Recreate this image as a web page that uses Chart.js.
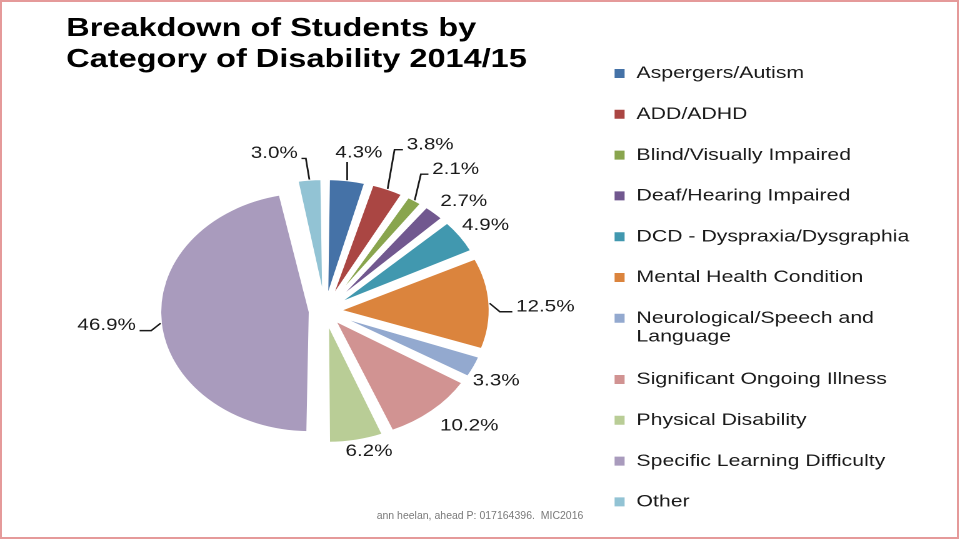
<!DOCTYPE html>
<html>
<head>
<meta charset="utf-8">
<title>Breakdown of Students by Category of Disability 2014/15</title>
<script src="https://cdn.jsdelivr.net/npm/chart.js@4.4.1/dist/chart.umd.min.js"></script>
<style>
  html, body { margin: 0; padding: 0; background: #fff; }
  body { width: 960px; height: 540px; position: relative; overflow: hidden; }
  /* the source slide is stretched sideways, so the chart is drawn narrow and scaled */
  #stretch { position: absolute; left: 0; top: 0; width: 768px; height: 540px; transform: scaleX(1.25); transform-origin: 0 0; }
  #frame { position: absolute; left: 0; top: 0; width: 959px; height: 539px; box-sizing: border-box; border: 2px solid #e59a9a; }
  #footer { position: absolute; left: 0; top: 508px; width: 960px; text-align: center; font: 10.5px "Liberation Sans", Arial, sans-serif; line-height: 14px; color: #7a7a7a; }
</style>
</head>
<body>
<div id="stretch"><canvas id="pie" width="768" height="540"></canvas></div>
<div id="footer">ann heelan, ahead P: 017164396.&nbsp; MIC2016</div>
<div id="frame"></div>
<script>
// Data
const titleLines = ['Breakdown of Students by', 'Category of Disability 2014/15']
const categories = [
  'Aspergers/Autism',
  'ADD/ADHD',
  'Blind/Visually Impaired',
  'Deaf/Hearing Impaired',
  'DCD - Dyspraxia/Dysgraphia',
  'Mental Health Condition',
  ['Neurological/Speech and', 'Language'],
  'Significant Ongoing Illness',
  'Physical Disability',
  'Specific Learning Difficulty',
  'Other'
]
const shares = [4.3, 3.8, 2.1, 2.7, 4.9, 12.5, 3.3, 10.2, 6.2, 46.9, 3.0]
const colours = [
  '#4572a7', '#aa4643', '#89a54e', '#71588f', '#4198af', '#db843d',
  '#93a9cf', '#d19392', '#b9cd96', '#a99bbd', '#92c3d4'
]

Chart.defaults.font.family = '"Liberation Sans", Arial, sans-serif'

//  Chart.js grows narrow exploded slices a little; keep every slice at one radius
const evenRadius = {
  id: 'evenRadius',
  afterDatasetsUpdate (chart) {
    const meta = chart.getDatasetMeta(0)
    const base = meta.controller.outerRadius
    meta.data.forEach(arc => {
      const shift = (arc.options.offset || 0) / 4
      const fix = 1 - Math.sin(Math.min(Math.PI, arc.circumference))
      arc.outerRadius = base - shift * fix
    })
  }
}

//  Percent labels outside the slices, with leader lines for the far ones
const sliceLabels = {
  id: 'sliceLabels',
  afterDatasetsDraw (chart, args, opts) {
    const ctx = chart.ctx
    const meta = chart.getDatasetMeta(0)
    const values = chart.data.datasets[0].data
    const base = meta.controller.outerRadius
    ctx.save()
    ctx.font = opts.font
    ctx.fillStyle = opts.color
    ctx.strokeStyle = opts.color
    ctx.lineWidth = opts.lineWidth
    ctx.textAlign = 'center'
    ctx.textBaseline = 'middle'
    meta.data.forEach((arc, i) => {
      const { x, y, startAngle, endAngle } = arc.getProps(
        ['x', 'y', 'startAngle', 'endAngle'], true)
      const r0 = base + arc.options.offset / 4
      const mid = (startAngle + endAngle) / 2
      const ax = x + Math.cos(mid) * r0
      const ay = y + Math.sin(mid) * r0
      const text = values[i].toFixed(1) + '%'
      const hw = ctx.measureText(text).width / 2
      const hh = 6
      const gap = opts.gap[i]
      const a = mid + opts.turn[i] * Math.PI / 180
      const dx = Math.cos(a)
      const dy = Math.sin(a)
      const lx = x + dx * (r0 + gap) + dx * hw
      const ly = y + dy * (r0 + gap) + dy * hh
      ctx.fillText(text, lx, ly)

      if (gap > 18) {
        ctx.beginPath()
        ctx.moveTo(ax, ay)
        if (Math.abs(lx - ax) < hw) {
          ctx.lineTo(ax, ly + (ay > ly ? 1 : -1) * (hh + 3))
        } else {
          const side = lx > ax ? 1 : -1
          const nx = lx - side * (hw + 3)
          const ny = ly + 5
          ctx.lineTo(ax + 0.45 * (nx - ax), ny)
          ctx.lineTo(nx, ny)
        }
        ctx.stroke()
      }
    })
    ctx.restore()
  }
}

new Chart(document.getElementById('pie'), {
  type: 'pie',
  data: {
    labels: categories,
    datasets: [
      {
        data: shares,
        backgroundColor: colours,
        borderColor: '#ffffff',
        borderWidth: 2,
        offset: 48,
        radius: 120
      }
    ]
  },
  options: {
    responsive: false,
    animation: false,
    devicePixelRatio: 2,
    events: [],
    layout: {
      padding: { left: 53, right: 30.6, top: 13.5, bottom: -21.9 }
    },
    plugins: {
      title: {
        display: true,
        text: titleLines,
        fullSize: false,
        align: 'start',
        color: '#000000',
        font: { size: 26, weight: 'bold', lineHeight: 31 / 26 },
        padding: { top: 0, bottom: 6.5 }
      },
      legend: {
        position: 'right',
        align: 'center',
        labels: {
          boxWidth: 10,
          boxHeight: 11,
          padding: 23.8,
          color: '#1a1a1a',
          font: { size: 17, lineHeight: 1.1 }
        }
      },
      tooltip: { enabled: false },
      sliceLabels: {
        gap: [22, 46, 34, 12, 8, 21, 6, 17, 6, 20, 24],
        turn: [1.3, 3, 1.5, 1.4, -1.3, 1.8, 4, -1.5, -2, 0, -8],
        font: '16.5px "Liberation Sans", Arial, sans-serif',
        color: '#1a1a1a',
        lineWidth: 1.4
      }
    }
  },
  plugins: [evenRadius, sliceLabels]
})
</script>
</body>
</html>
